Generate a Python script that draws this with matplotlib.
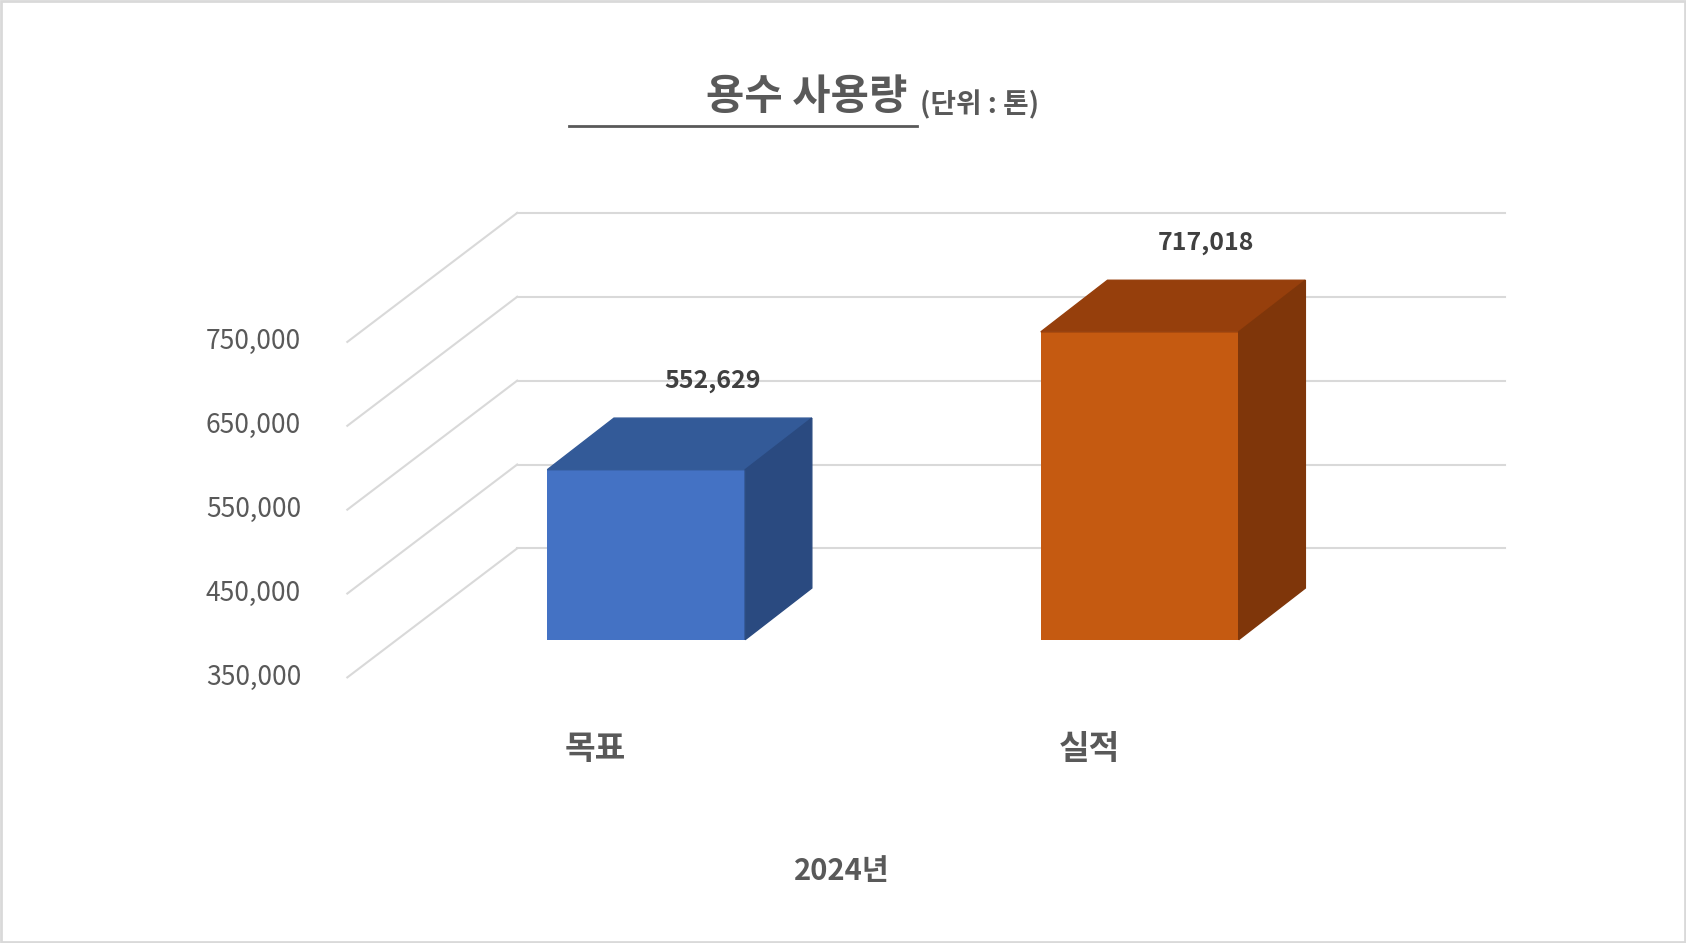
import matplotlib
matplotlib.use("Agg")
import matplotlib.pyplot as plt
from matplotlib.patches import Polygon, Rectangle

plt.rcParams['font.family'] = ['Noto Sans CJK KR', 'DejaVu Sans']

categories = ['목표', '실적']
values = [552629, 717018]
value_labels = ['552,629', '717,018']
ticks = [350000, 450000, 550000, 650000, 750000]
tick_labels = ['350,000', '450,000', '550,000', '650,000', '750,000']
front_colors = ['#4472C4', '#C55A11']
top_colors = ['#335A98', '#963F0C']
side_colors = ['#2A4A80', '#7F360A']

W, H = 1568, 877
PX = 100000 / 78.0  # value per reference pixel
def v(yp):
    return 350000 + (630 - yp) * PX

fig = plt.figure(figsize=(16.86, 9.43), dpi=100)
ax = fig.add_axes([0, 0, 1, 1])
ax.set_xlim(0, W)
ax.set_ylim(v(H), v(0))
ax.axis('off')

# border
ax.add_patch(Rectangle((1, v(H - 1)), W - 2, v(1) - v(H - 1), fill=False, ec='#D9D9D9', lw=2))

# gridlines (3D wall)
wall_dx = 158
wall_dv = 120 * PX
for t, lab in zip(ticks, tick_labels):
    ax.plot([323, 323 + wall_dx], [t, t + wall_dv], color='#D9D9D9', lw=1.5, zorder=1)
    ax.plot([323 + wall_dx, 1400], [t + wall_dv, t + wall_dv], color='#D9D9D9', lw=1.5, zorder=1)
    ax.text(280, t, lab, ha='right', va='center', fontsize=19, color='#595959')

# bars
bar_x = [509, 968]
bar_w = 184
off = 45000
bdx = 62
bdv = 48 * PX
for x, val, lab, cat, fc, tc, sc in zip(bar_x, values, value_labels, categories,
                                        front_colors, top_colors, side_colors):
    base = 350000 + off
    top = val + off
    ax.bar(x, top - base, bottom=base, width=bar_w, align='edge', color=fc, zorder=3)
    ax.add_patch(Polygon([(x, top), (x + bar_w, top), (x + bar_w + bdx, top + bdv), (x + bdx, top + bdv)],
                         closed=True, color=tc, zorder=3))
    ax.add_patch(Polygon([(x + bar_w, base), (x + bar_w + bdx, base + bdv), (x + bar_w + bdx, top + bdv), (x + bar_w, top)],
                         closed=True, color=sc, zorder=3))
    ax.text(x + bar_w / 2 + bdx, top + bdv + 30000, lab, ha='center', va='bottom',
            fontsize=18, fontweight='bold', color='#404040')
    ax.text(x + 45, v(697), cat, ha='center', va='center', fontsize=24, fontweight='bold', color='#595959')

ax.text(783, v(810), '2024년', ha='center', va='center', fontsize=21, fontweight='bold', color='#595959')

# title
ax.text(853, v(90), '용수 사용량 ', ha='right', va='center', fontsize=30, fontweight='bold', color='#595959')
ax.plot([529, 853], [v(117), v(117)], color='#595959', lw=2)
ax.text(856, v(97), '(단위 : 톤)', ha='left', va='center', fontsize=20, fontweight='bold', color='#595959')

fig.savefig('out.png', dpi=100)
